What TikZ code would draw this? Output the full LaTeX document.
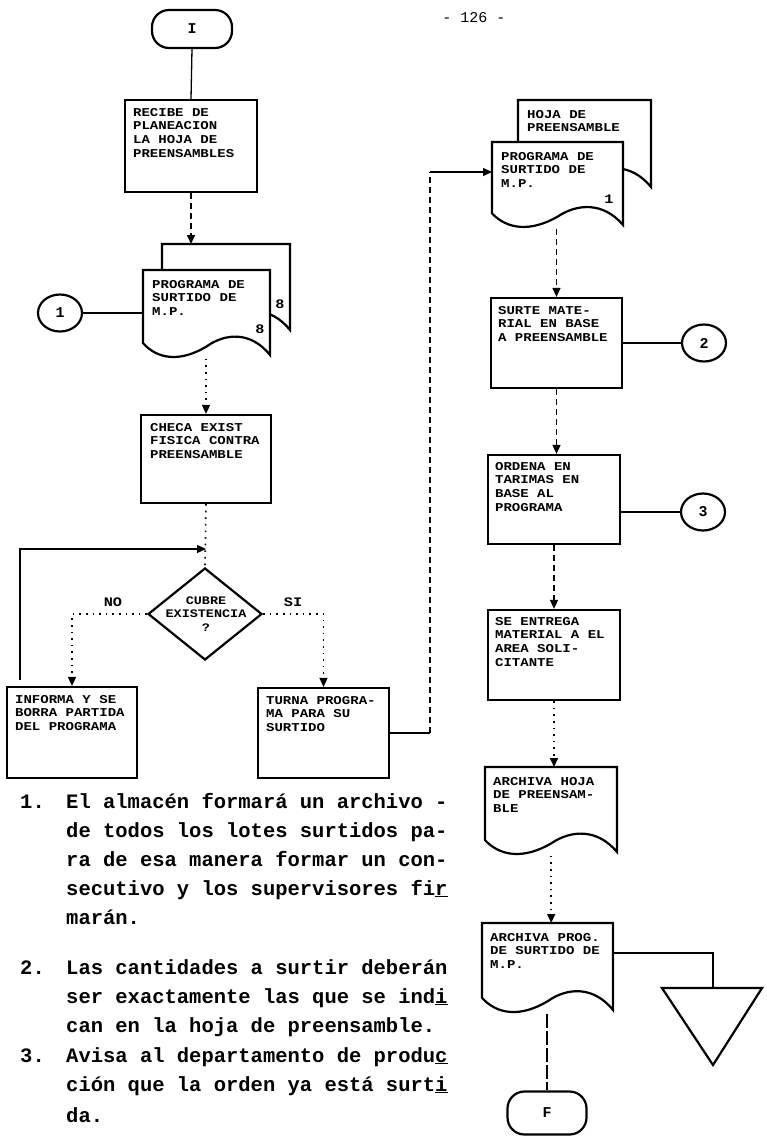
\documentclass[tikz,border=0pt]{standalone}
\usepackage{fontspec}
\setmonofont{Liberation Mono}
\newfontfamily\boxfont[FakeStretch=1.17]{Liberation Mono}
\usetikzlibrary{shapes.geometric,arrows.meta,calc}
\tikzset{
  proc/.style={draw, line width=2.2pt, inner sep=0pt, fill=white},
  btxt/.style={anchor=north west, align=left, inner sep=0pt, font=\boxfont\bfseries\fontsize{12}{13.7}\selectfont},
  conn/.style={draw, ellipse, line width=2.2pt, minimum width=44pt, minimum height=37pt, inner sep=0pt, font=\ttfamily\bfseries\fontsize{15}{15}\selectfont},
  term/.style={draw, rounded corners=17pt, line width=2.2pt, inner sep=0pt, font=\ttfamily\bfseries\fontsize{15}{15}\selectfont},
  docst/.style={draw, line width=2.2pt, fill=white},
  docnode/.style={inner sep=0pt, draw=none, anchor=north west},
  solidln/.style={line width=1.3pt},
  dashln/.style={line width=1.5pt, dash pattern=on 6pt off 4pt},
  dotln/.style={line width=1.6pt, dash pattern=on 1.6pt off 5pt},
  fbln/.style={line width=1.2pt},
  tip/.style={-{Triangle[width=8pt,length=9pt]}},
  lbl/.style={inner sep=0pt, font=\boxfont\bfseries\fontsize{13}{13}\selectfont},
  note/.style={anchor=base west, inner sep=0pt, font=\ttfamily\bfseries\fontsize{20.5}{24}\selectfont},
}
\newcommand\mydoc[5]{%
  \draw[docst] ({#2},{#3}) -- ({#2+#4},{#3}) -- ({#2+#4},{#3+#5})
    .. controls ({#2+0.85*#4},{#3+0.72*#5}) and ({#2+0.65*#4},{#3+0.74*#5}) .. ({#2+0.5*#4},{#3+0.9*#5})
    .. controls ({#2+0.3*#4},{#3+1.08*#5}) and ({#2+0.12*#4},{#3+1.06*#5}) .. ({#2},{#3+0.86*#5}) -- cycle;
  \node[docnode, minimum width=#4pt, minimum height=1.04*#5pt] (#1) at ({#2},{#3}) {};
}
\begin{document}
\begin{tikzpicture}[x=1pt,y=-1pt]
\useasboundingbox (0,0) rectangle (767,1136);

% page number
\node[inner sep=0pt, font=\ttfamily\fontsize{15}{15}\selectfont] (pg) at (474,18) {- 126 -};

% ---------------- left column ----------------
\node[term, minimum width=80pt, minimum height=38pt] (tI) at (192,29) {I};
\node[proc, minimum width=132pt, minimum height=92pt] (b1) at (191,146) {};
\node[btxt] (b1t) at ($(b1.north west)+(9,9)$) {RECIBE DE\\PLANEACION\\LA HOJA DE\\PREENSAMBLES};
\draw[solidln] (tI.south) -- (b1.north);

\mydoc{dLb}{162}{244}{128}{86}
\node[lbl] (dLbn) at (280,304) {8};
\mydoc{dL}{143}{270}{127}{85}
\node[btxt] (dLt) at ($(dL.north west)+(9,10)$) {PROGRAMA DE\\SURTIDO DE\\M.P.};
\node[lbl] (dLn) at (260,329) {8};
\draw[dashln, tip] (b1.south) -- (b1.south |- dLb.north);

\node[conn] (c1) at (60,313) {1};
\draw[solidln] (c1.east) -- (c1.east -| dL.west);

\node[proc, minimum width=130pt, minimum height=88pt] (b2) at (206,459) {};
\node[btxt] (b2t) at ($(b2.north west)+(10,9)$) {CHECA EXIST\\FISICA CONTRA\\PREENSAMBLE};
\draw[dotln, tip] (dL.south -| b2.north) -- (b2.north);

\node[diamond, draw, line width=2.2pt, minimum width=114pt, minimum height=92pt, inner sep=0pt] (dia) at (205,614) {};
\node[align=center, inner sep=0pt, font=\boxfont\bfseries\fontsize{11.5}{13.2}\selectfont] (diat) at (206,614) {CUBRE\\EXISTENCIA\\?};
\draw[dotln] (b2.south) -- (dia.north);
\coordinate (j) at (206,549);

\node[proc, minimum width=130pt, minimum height=91pt] (b3) at (72,732.5) {};
\node[btxt] (b3t) at ($(b3.north west)+(9,9)$) {INFORMA Y SE\\BORRA PARTIDA\\DEL PROGRAMA};
\node[proc, minimum width=131pt, minimum height=90pt] (b4) at (323.5,733) {};
\node[btxt] (b4t) at ($(b4.north west)+(9,9)$) {TURNA PROGRA-\\MA PARA SU\\SURTIDO};

\draw[dotln, tip] (dia.west) -| (b3.north);
\draw[dotln, tip] (dia.east) -| (b4.north);
\node[lbl] (no) at (113,602) {NO};
\node[lbl] (si) at (293,602) {SI};
\draw[fbln, tip] ($(b3.north west)+(14,-6)$) |- (j);

% ---------------- right column ----------------
\mydoc{dRb}{518}{100}{133}{87}
\node[btxt] (dRbt) at ($(dRb.north west)+(9,10)$) {HOJA DE\\PREENSAMBLE};
\mydoc{dR}{492}{142}{131}{83}
\node[btxt] (dRt) at ($(dR.north west)+(9,10)$) {PROGRAMA DE\\SURTIDO DE\\M.P.};
\node[lbl] (dRn) at (609,199) {1};

\coordinate (r1) at (430,733);
\coordinate (r2) at (430,172);
\draw[solidln] (b4.east) -- (b4.east -| r1);
\draw[dashln] (b4.east -| r1) -- (r2);
\draw[solidln, tip] (r2) -- (r2 -| dR.west);

\node[proc, minimum width=131pt, minimum height=90pt] (b5) at (556.5,343) {};
\node[btxt] (b5t) at ($(b5.north west)+(8,9)$) {SURTE MATE-\\RIAL EN BASE\\A PREENSAMBLE};
\node[conn] (c2) at (704,343) {2};
\draw[solidln] (b5.east) -- (c2.west);
\draw[dashln, tip] (dR.south -| b5.north) -- (b5.north);

\node[proc, minimum width=132pt, minimum height=89pt] (b6) at (554,499.5) {};
\node[btxt] (b6t) at ($(b6.north west)+(8,8)$) {ORDENA EN\\TARIMAS EN\\BASE AL\\PROGRAMA};
\node[conn] (c3) at (703,512) {3};
\draw[solidln] (c3.west -| b6.east) -- (c3.west);
\draw[dashln, tip] (b5.south) -- (b5.south |- b6.north);

\node[proc, minimum width=132pt, minimum height=90pt] (b7) at (554,655) {};
\node[btxt] (b7t) at ($(b7.north west)+(8,8)$) {SE ENTREGA\\MATERIAL A EL\\AREA SOLI-\\CITANTE};
\draw[dashln, tip] (b6.south) -- (b6.south |- b7.north);

\mydoc{d3}{485}{767}{132}{85}
\node[btxt] (d3t) at ($(d3.north west)+(8,10)$) {ARCHIVA HOJA\\DE PREENSAM-\\BLE};
\draw[dotln, tip] (b7.south) -- (b7.south |- d3.north);

\mydoc{d4}{482}{923}{131}{87}
\node[btxt] (d4t) at ($(d4.north west)+(8,10)$) {ARCHIVA PROG.\\DE SURTIDO DE\\M.P.};
\draw[dotln, tip] (d3.south) -- (d3.south |- d4.north);

\node[term, minimum width=79pt, minimum height=43pt] (tF) at (547,1113) {F};
\draw[dashln, dash pattern=on 14pt off 3pt] (d4.south -| tF.north) -- (tF.north);

\coordinate (tri) at (713,988);
\draw[line width=2.2pt, line join=miter] (662,988) -- (762,988) -- (713,1065) -- cycle;
\draw[solidln] ($(d4.north east)+(0,30)$) -| (tri);

% ---------------- notes ----------------
\node[note] (n1) at (20,808) {1.};
\node[note] (n1a) at (66,808) {El almacén formará un archivo -};
\node[note] (n1b) at (66,837) {de todos los lotes surtidos pa-};
\node[note] (n1c) at (66,866) {ra de esa manera formar un con-};
\node[note] (n1d) at (66,895) {secutivo y los supervisores fi\underline{r}};
\node[note] (n1e) at (66,924) {marán.};

\node[note] (n2) at (20,974) {2.};
\node[note] (n2a) at (66,974) {Las cantidades a surtir deberán};
\node[note] (n2b) at (66,1003) {ser exactamente las que se ind\underline{i}};
\node[note] (n2c) at (66,1032) {can en la hoja de preensamble.};

\node[note] (n3) at (20,1062) {3.};
\node[note] (n3a) at (66,1062) {Avisa al departamento de produ\underline{c}};
\node[note] (n3b) at (66,1091) {ción que la orden ya está surt\underline{i}};
\node[note] (n3c) at (66,1122) {da.};
\end{tikzpicture}
\end{document}
